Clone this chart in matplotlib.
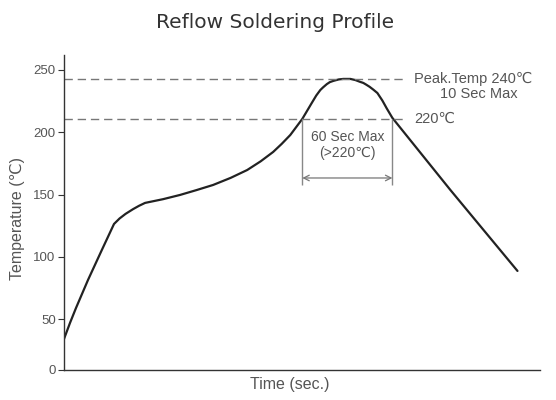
import matplotlib
matplotlib.use("Agg")
from matplotlib import pyplot as plt

# Profile (time in sec, temperature in C)
times = [0, 4, 8, 16, 25, 33.3, 37, 41, 46, 50, 54, 66, 77.3, 88, 99.3, 111, 122,
         131, 139.3, 145, 150.7, 158.7, 165, 168, 170.7, 172.5, 175, 177, 179.3,
         183, 186, 190.7, 194, 197.3, 199.3, 201, 203.5, 206, 208.7, 212, 215,
         218.7, 257.3, 302]
temps = [34.1, 47, 59, 81.5, 105, 126.4, 130.8, 134.5, 138.3, 141, 143.3, 146.3,
         149.7, 153.5, 157.7, 163.4, 169.7, 176.7, 184.2, 190.7, 197.8, 210.7,
         223.5, 229.5, 233.9, 236, 238.6, 240.2, 241.2, 242.4, 242.8, 242.8,
         241.9, 240.4, 239.6, 238.4, 236.5, 234.2, 231.5, 225.5, 219, 211.5,
         153.7, 88.7]

peak_line = 242.8
limit_line = 210.7
window = [158.7, 218.7]
ytick_vals = [9.2, 50, 100, 150, 200, 250]
ytick_labels = ['0', '50', '100', '150', '200', '250']

fonts = ['Liberation Sans', 'DejaVu Sans']
gray = '#555555'

fig = plt.figure(figsize=(5.56, 4), dpi=100)
ax = fig.add_axes([64/556, 30/400, 476/556, 315/400])

ax.plot(times, temps, color='#222222', lw=1.6, solid_capstyle='round',
        solid_joinstyle='round')

# dashed reference lines
ax.hlines([peak_line, limit_line], 0, 228, colors='#777777', lw=1,
          linestyles=(0, (6, 3.5)))
ax.text(233, peak_line, 'Peak.Temp 240\u2103', fontsize=10.5, color=gray,
        va='center', family=fonts)
ax.text(276, peak_line - 12.5, '10 Sec Max', fontsize=10.5, color=gray,
        va='center', ha='center', family=fonts)
ax.text(233, limit_line, '220\u2103', fontsize=10.5, color=gray,
        va='center', family=fonts)

# 60 sec window
ax.vlines(window, 157.5, limit_line, colors='#888888', lw=1)
ax.annotate('', xy=(window[0], 163.3), xytext=(window[1], 163.3),
            arrowprops=dict(arrowstyle='<->', color='#777777', lw=0.9,
                            shrinkA=0, shrinkB=0))
ax.text(sum(window)/2, 196.5, '60 Sec Max', fontsize=10, color=gray,
        ha='center', va='center', family=fonts)
ax.text(sum(window)/2, 183, '(>220\u2103)', fontsize=10, color=gray,
        ha='center', va='center', family=fonts)

ax.set_xlim(0, 317)
ax.set_ylim(9.2, 262)
ax.set_xticks([])
ax.set_yticks(ytick_vals)
ax.set_yticklabels(ytick_labels, family=fonts, fontsize=9.5, color=gray)
ax.tick_params(axis='y', length=4, width=0.8, color='#333333', pad=2)
for side in ['top', 'right']:
    ax.spines[side].set_visible(False)
for side in ['left', 'bottom']:
    ax.spines[side].set_color('#333333')
    ax.spines[side].set_linewidth(1)

fig.text(275/556, 1 - 22/400, 'Reflow Soldering Profile', fontsize=14.5,
         color='#333333', ha='center', va='center')
fig.text(290/556, 1 - 385/400, 'Time (sec.)', fontsize=11.5, color=gray,
         ha='center', va='center', family=fonts)
fig.text(18/556, 1 - 218/400, 'Temperature (\u2103)', fontsize=11.5, color=gray,
         ha='center', va='center', rotation=90, family=fonts)

fig.savefig('out.png', dpi=100)
